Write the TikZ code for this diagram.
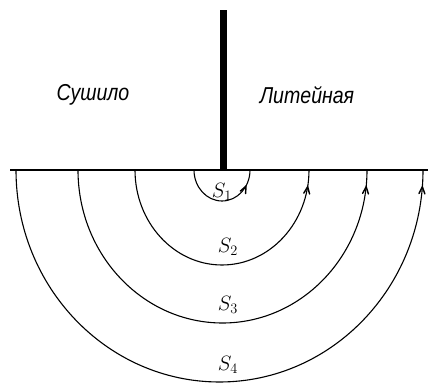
\documentclass[tikz,border=0pt]{standalone}
\usepackage{fontspec}
\newfontfamily\labelfont[FakeStretch=0.85]{Liberation Sans}
\usetikzlibrary{arrows, decorations.markings}

\tikzset{
	zone/.style={line width=1.1pt, postaction={decorate},
		decoration={markings, mark=at position -15pt with {\arrow[scale=1.3]{angle 45}}}},
	room/.style={font=\labelfont\itshape\fontsize{23}{26}\selectfont},
	area/.style={font=\fontsize{22}{24}\selectfont}
}

\begin{document}
\begin{tikzpicture}[x=1pt, y=1pt]
		\useasboundingbox (0,0) rectangle (428,387);
		\draw[line width=1.1pt] (10,217) -- (428,217);
		\draw[line width=7pt] (223,217) -- (223,377);
		\node[room] (dry) at (93,292) {Сушило};
		\node[room] (cast) at (307,292) {Литейная};
		\draw[zone] (194,217) arc[start angle=180, end angle=360, x radius=28pt, y radius=31pt];
		\draw[zone] (135,217) arc[start angle=180, end angle=360, x radius=87pt, y radius=95pt];
		\draw[zone] (78,217) arc[start angle=180, end angle=360, x radius=144.5pt, y radius=153pt];
		\draw[zone] (16,217) arc[start angle=180, end angle=360, x radius=203.5pt, y radius=212pt];
		\node[area] (s1) at (222,195) {$S_1$};
		\node[area] (s2) at (228,140) {$S_2$};
		\node[area] (s3) at (228,82) {$S_3$};
		\node[area] (s4) at (228,22) {$S_4$};
	\end{tikzpicture}
\end{document}
